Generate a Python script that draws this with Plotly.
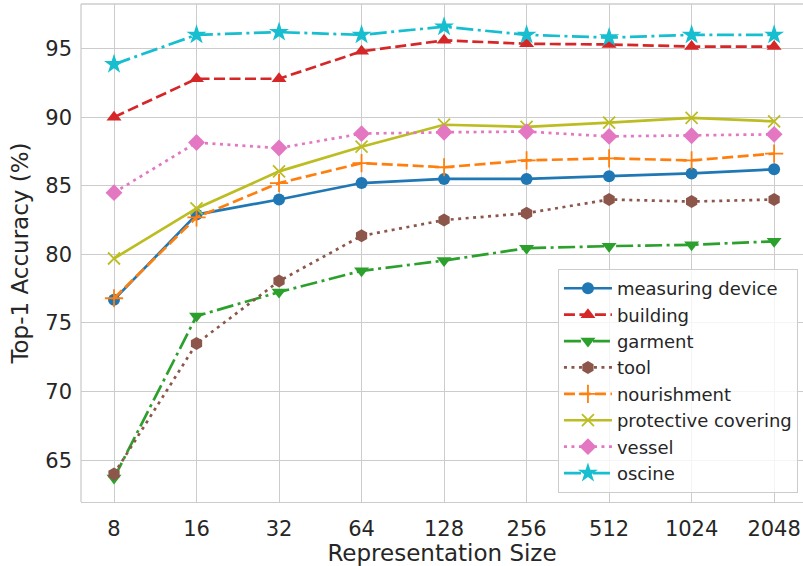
import plotly.graph_objects as go

sizes = ["8", "16", "32", "64", "128", "256", "512", "1024", "2048"]

measuring_device = [76.7, 82.9, 84.0, 85.2, 85.5, 85.5, 85.7, 85.9, 86.2]
building = [90.0, 92.8, 92.8, 94.8, 95.6, 95.35, 95.3, 95.15, 95.15]
garment = [63.7, 75.5, 77.25, 78.8, 79.55, 80.45, 80.6, 80.7, 80.95]
tool = [64.0, 73.5, 78.05, 81.35, 82.5, 83.0, 84.0, 83.85, 84.0]
nourishment = [76.8, 82.7, 85.2, 86.65, 86.35, 86.85, 87.0, 86.85, 87.35]
protective_covering = [79.7, 83.35, 86.05, 87.85, 89.45, 89.3, 89.6, 89.95, 89.7]
vessel = [84.5, 88.15, 87.75, 88.8, 88.9, 88.95, 88.6, 88.65, 88.75]
oscine = [93.85, 96.0, 96.2, 96.0, 96.6, 96.0, 95.8, 96.0, 96.0]

series = [
    ("measuring device", measuring_device, "#1f77b4", "solid", "circle", 12),
    ("building", building, "#d62728", "11px,4.5px", "triangle-up", 13),
    ("garment", garment, "#2ca02c", "17px,4.5px,3px,4.5px", "triangle-down", 13),
    ("tool", tool, "#8c564b", "3px,4.5px", "hexagon", 13),
    ("nourishment", nourishment, "#ff7f0e", "11px,4.5px", "cross-thin", 13),
    ("protective covering", protective_covering, "#bcbd22", "solid", "x-thin", 12),
    ("vessel", vessel, "#e377c2", "3px,4.5px", "diamond", 13),
    ("oscine", oscine, "#17becf", "17px,4.5px,3px,4.5px", "star", 15),
]

fig = go.Figure()
xs = list(range(len(sizes)))
for name, vals, color, dash, sym, msz in series:
    thin = sym.endswith("-thin")
    fig.add_trace(go.Scatter(
        x=xs, y=vals, name=name, mode="lines+markers",
        line=dict(color=color, width=2.7, dash=dash),
        marker=dict(symbol=sym, size=msz, color=color,
                    line=dict(color=color, width=1.8 if thin else 0)),
    ))

font_color = "#262626"
frame = dict(color="#cccccc", width=1.3)
fig.update_layout(
    width=803, height=566,
    margin=dict(l=81, r=0, t=4, b=64, autoexpand=False),
    plot_bgcolor="white", paper_bgcolor="white",
    font=dict(family="DejaVu Sans", color=font_color, size=21),
    legend=dict(
        x=0.993, y=0.018, xanchor="right", yanchor="bottom",
        bgcolor="rgba(255,255,255,0.8)", bordercolor="#cccccc", borderwidth=1,
        font=dict(size=18, color=font_color), itemwidth=48,
    ),
    showlegend=True,
    shapes=[
        dict(type="line", xref="paper", yref="paper", x0=0, x1=1, y0=1, y1=1,
             line=frame, layer="below"),
        dict(type="line", xref="paper", yref="paper", x0=0, x1=0, y0=0, y1=1,
             line=frame, layer="below"),
    ],
)
fig.update_xaxes(
    tickmode="array", tickvals=xs, ticktext=sizes,
    range=[-0.4, 8.35], automargin=False,
    showgrid=True, gridcolor="#cccccc", gridwidth=1.3,
    showline=True, linecolor="#cccccc", linewidth=1.3, mirror=False,
    zeroline=False,
    title=dict(text="Representation Size", font=dict(size=23), standoff=4),
    tickfont=dict(size=21), ticklabelstandoff=8,
)
fig.update_yaxes(
    tickvals=[65, 70, 75, 80, 85, 90, 95],
    range=[61.95, 98.25], automargin=False,
    showgrid=True, gridcolor="#cccccc", gridwidth=1.3,
    showline=False,
    zeroline=False,
    title=dict(text="Top-1 Accuracy (%)", font=dict(size=23), standoff=10),
    tickfont=dict(size=21), ticklabelstandoff=8,
)

fig.write_html(
    "out.html",
    config={"displayModeBar": False},
    post_script="document.body.style.margin='0';document.body.style.overflow='hidden';",
)
